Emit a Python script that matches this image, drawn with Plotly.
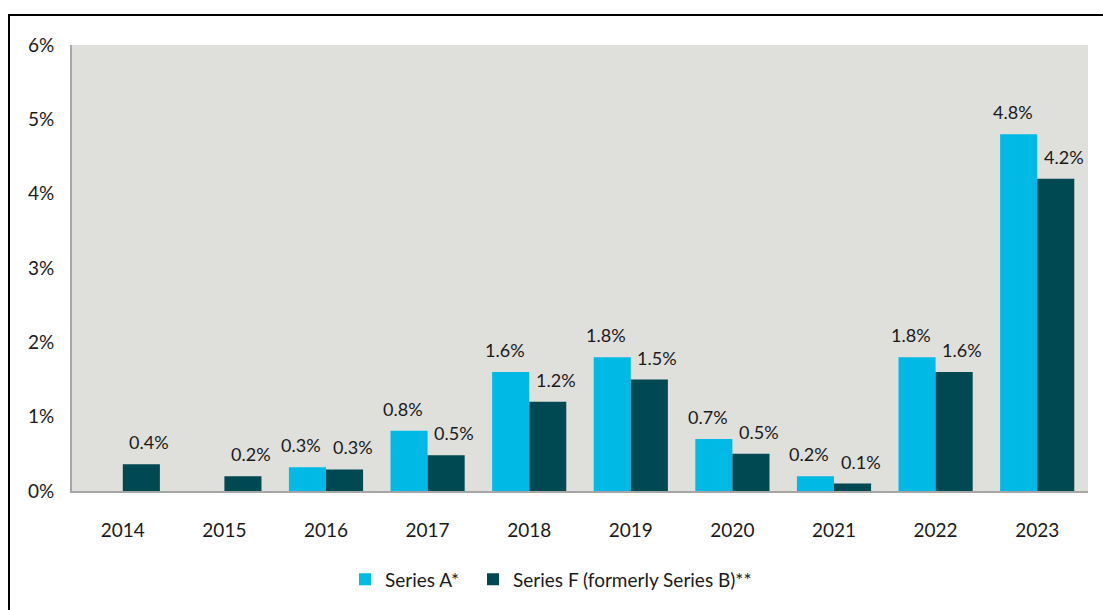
import plotly.graph_objects as go

years = ["2014", "2015", "2016", "2017", "2018", "2019", "2020", "2021", "2022", "2023"]
series_a_name = "Series A*"
series_f_name = "Series F (formerly Series B)**"
series_a = [None, None, 0.32, 0.81, 1.60, 1.80, 0.70, 0.20, 1.80, 4.80]
series_f = [0.36, 0.20, 0.29, 0.48, 1.20, 1.50, 0.50, 0.10, 1.60, 4.20]
y_ticks = [0, 1, 2, 3, 4, 5, 6]

color_a = "#00B9E4"
color_f = "#004852"
font_family = "Lato, 'Open Sans', sans-serif"
font_size = 19
label_size = 18

W, H = 1103, 610
margin = dict(l=72, r=15, t=45, b=119)
bargap = 0.27

fig = go.Figure()
fig.add_trace(go.Bar(name=series_a_name, x=years, y=series_a, marker_color=color_a,
                     marker_line_width=0, legend="legend", showlegend=True))
fig.add_trace(go.Bar(name=series_f_name, x=years, y=series_f, marker_color=color_f,
                     marker_line_width=0, legend="legend2", showlegend=True))

# data labels above bars (x given as category index)
plot_w = W - margin["l"] - margin["r"]
bar_w = plot_w / len(years) * (1 - bargap) / 2
annotations = []
for vals, side, extra in ((series_a, -1, -6), (series_f, 1, 8)):
    for i, v in enumerate(vals):
        if v is None:
            continue
        annotations.append(dict(
            x=i, y=v, xref="x", yref="y", text=f"{v:.1f}%", showarrow=False,
            xshift=side * bar_w / 2 + extra, yshift=22, yanchor="middle",
            font=dict(family=font_family, size=label_size, color="#1a1a1a")))

legend_style = dict(orientation="h", xanchor="left", y=-0.198, yanchor="middle",
                    font=dict(family=font_family, size=font_size, color="#1a1a1a"),
                    bgcolor="rgba(0,0,0,0)", itemclick=False, visible=True)

fig.update_layout(
    width=W, height=H, margin=margin, showlegend=True,
    barmode="group", bargap=bargap, bargroupgap=0,
    paper_bgcolor="white", plot_bgcolor="#DFDFDB",
    font=dict(family=font_family, size=font_size, color="#1a1a1a"),
    annotations=annotations,
    legend=dict(x=(345 - margin["l"]) / plot_w, **legend_style),
    legend2=dict(x=(473 - margin["l"]) / plot_w, **legend_style),
    shapes=[dict(type="rect", xref="paper", yref="paper",
                 x0=(9 - margin["l"]) / plot_w, x1=1.2,
                 y0=-0.5, y1=(H - margin["b"] - 15) / (H - margin["t"] - margin["b"]),
                 line=dict(color="black", width=2), fillcolor="rgba(0,0,0,0)", layer="above")],
)
fig.update_yaxes(range=[0, 6], tickvals=y_ticks, ticktext=[f"{t}%" for t in y_ticks],
                 showgrid=False, showline=True, linecolor="#A6A6A6", linewidth=2, ticks="",
                 ticklabelstandoff=12, zeroline=False, fixedrange=True)
fig.update_xaxes(type="category", range=[-0.5, len(years) - 0.5], showgrid=False,
                 showline=True, linecolor="#A6A6A6", linewidth=2, ticks="",
                 ticklabelstandoff=21, fixedrange=True)

fig.write_html("out.html", config={"displayModeBar": False},
               post_script="document.body.style.margin='0';document.body.style.overflow='hidden';")
